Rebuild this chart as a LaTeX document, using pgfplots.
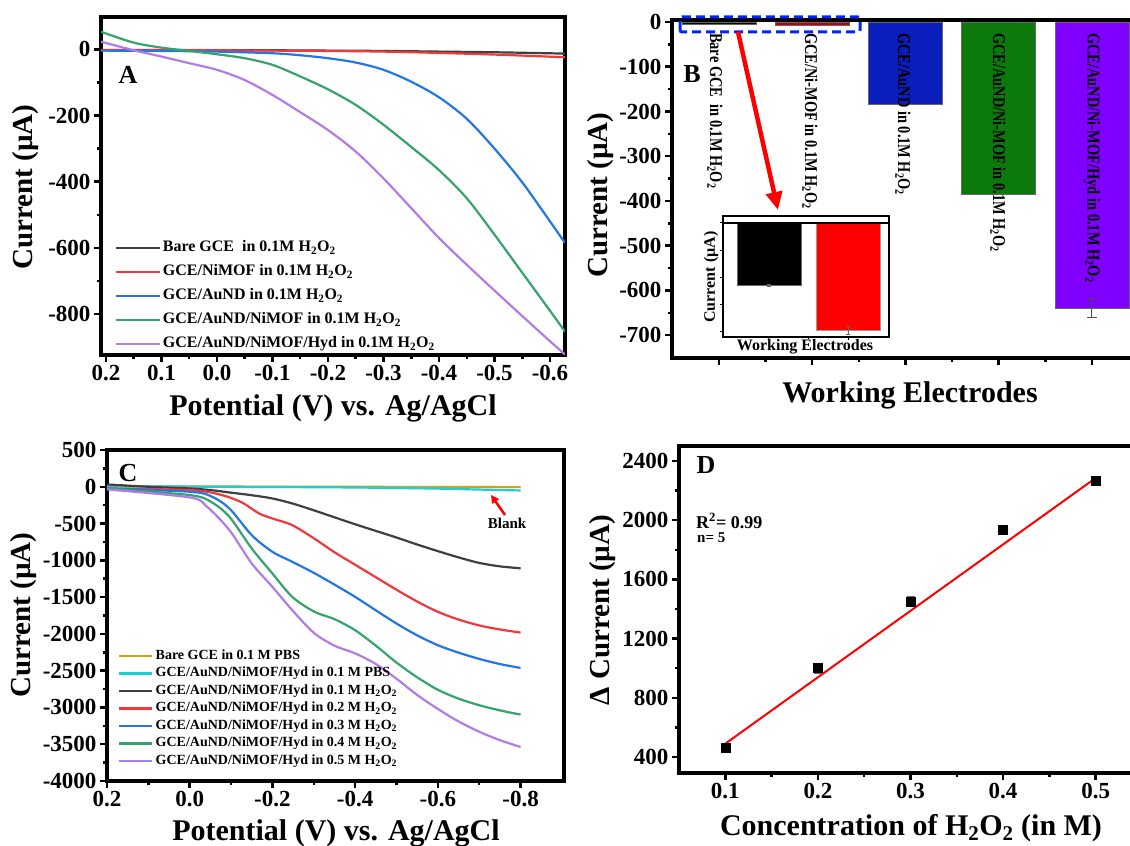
\documentclass[border=0pt]{standalone}
\usepackage{fontspec}
\setmainfont{Liberation Serif}
\usepackage{pgfplots}
\pgfplotsset{compat=1.18}
\usetikzlibrary{arrows.meta}
\newcommand\fs[1]{\fontsize{#1bp}{#1bp}\selectfont\bfseries}
\definecolor{cgray}{HTML}{3F3F3F}
\definecolor{cred}{HTML}{F2383B}
\definecolor{cblue}{HTML}{2476E4}
\definecolor{cgreen}{HTML}{35A46A}
\definecolor{cpurple}{HTML}{B07CE6}
\definecolor{corange}{HTML}{D9A010}
\definecolor{ccyan}{HTML}{1ACFD6}
\definecolor{bred}{HTML}{C00000}
\definecolor{bblue}{HTML}{0A1EBE}
\definecolor{bgreen}{HTML}{0B7A0B}
\definecolor{bpurple}{HTML}{7F00FF}
\pgfplotsset{
  myaxis/.style={
    scale only axis,
    axis line style={line width=3.5bp},
    tick align=outside,
    tick pos=left,
    major tick length=7bp,
    minor tick length=4bp,
    every tick/.style={black, line width=2.5bp},
    tick label style={font=\fs{23}},
    /pgf/number format/assume math mode=true,
    legend cell align=left,
  },
}
\begin{document}
\begin{tikzpicture}
\useasboundingbox (0,0) rectangle (1130bp,846bp);
% ---------------- Panel A
\begin{axis}[myaxis, at={(101bp,491bp)}, anchor=south west, width=464bp, height=338bp,
  x dir=reverse, xmin=-0.627, xmax=0.209, ymin=-923.6, ymax=97.6,
  xtick={-0.6,-0.5,-0.4,-0.3,-0.2,-0.1,0,0.1,0.2},
  xticklabels={-0.6,-0.5,-0.4,-0.3,-0.2,-0.1,0.0,0.1,0.2},
  ytick={-800,-600,-400,-200,0}, yticklabels={-800,-600,-400,-200,0},
  minor x tick num=1, minor y tick num=1,
  legend style={at={(axis description cs:0.022,0.358)}, anchor=north west, draw=none, fill=none,
    font=\fs{16}, nodes={text height=11bp, text depth=4bp, inner ysep=4.5bp}},
  legend image code/.code={\draw[#1, line width=2.5bp] (0bp,0bp) -- (44bp,0bp);},
]
\addplot[cgray, line width=2.2bp, smooth] coordinates {(0.209,-2)(0.1,-2)(0,-3)(-0.1,-3)(-0.2,-4)(-0.3,-5)(-0.4,-7)(-0.5,-9)(-0.627,-13)};
\addlegendentry{Bare GCE\ \ in 0.1M H\textsubscript{2}O\textsubscript{2}}
\addplot[cred, line width=2.2bp, smooth] coordinates {(0.209,-3)(0.1,-3)(0,-3)(-0.1,-4)(-0.2,-5)(-0.3,-7)(-0.4,-11)(-0.5,-16)(-0.627,-24)};
\addlegendentry{GCE/NiMOF in 0.1M H\textsubscript{2}O\textsubscript{2}}
\addplot[cblue, line width=2.2bp, smooth] coordinates {(0.209,-4)(0.1,-5)(0,-7)(-0.1,-12)(-0.15,-18)(-0.2,-27)(-0.25,-40)(-0.3,-62)(-0.35,-98)(-0.4,-145)(-0.45,-210)(-0.5,-300)(-0.55,-402)(-0.6,-520)(-0.627,-585)};
\addlegendentry{GCE/AuND in 0.1M H\textsubscript{2}O\textsubscript{2}}
\addplot[cgreen, line width=2.2bp, smooth] coordinates {(0.209,53)(0.15,20)(0.1,5)(0.05,-5)(0,-15)(-0.05,-27)(-0.1,-47)(-0.15,-82)(-0.2,-121)(-0.25,-168)(-0.3,-228)(-0.35,-295)(-0.4,-365)(-0.45,-450)(-0.5,-560)(-0.55,-675)(-0.6,-790)(-0.627,-853)};
\addlegendentry{GCE/AuND/NiMOF in 0.1M H\textsubscript{2}O\textsubscript{2}}
\addplot[cpurple, line width=2.2bp, smooth] coordinates {(0.209,23)(0.15,-3)(0.1,-22)(0.05,-42)(0,-62)(-0.05,-93)(-0.1,-138)(-0.15,-190)(-0.2,-244)(-0.25,-309)(-0.3,-390)(-0.35,-480)(-0.4,-570)(-0.45,-651)(-0.5,-729)(-0.55,-806)(-0.6,-882)(-0.627,-922)};
\addlegendentry{GCE/AuND/NiMOF/Hyd in 0.1M H\textsubscript{2}O\textsubscript{2}}
\end{axis}
% ---------------- Panel B
\begin{axis}[myaxis, at={(672bp,488bp)}, anchor=south west, width=466.6bp, height=338bp,
  xmin=-0.504, xmax=4.5, ymin=-751, ymax=4.5,
  xtick={0,1,2,3,4}, xticklabels={}, minor x tick num=1,
  ytick={-700,-600,-500,-400,-300,-200,-100,0},
  yticklabels={-700,-600,-500,-400,-300,-200,-100,0}, minor y tick num=1,
]
\addplot[ybar, bar shift=0pt, bar width=74bp, fill=black, draw=black!60, line width=0.6bp] coordinates {(0,-5)};
\addplot[ybar, bar shift=0pt, bar width=74bp, fill=bred, draw=black!60, line width=0.6bp] coordinates {(1,-8)};
\addplot[ybar, bar shift=0pt, bar width=74bp, fill=bblue, draw=black!60, line width=0.6bp] coordinates {(2,-185)};
\addplot[ybar, bar shift=0pt, bar width=74bp, fill=bgreen, draw=black!60, line width=0.6bp] coordinates {(3,-385)};
\addplot[ybar, bar shift=0pt, bar width=74bp, fill=bpurple, draw=black!60, line width=0.6bp,
  error bars/.cd, y dir=both, y explicit, error bar style={line width=1bp, black!70},
  error mark options={rotate=90, mark size=5bp, line width=1bp, black!70}] coordinates {(4,-639) +- (0,21)};
\end{axis}
% bar labels
\begin{scope}[every node/.style={rotate=-90, anchor=west, inner sep=0pt, font=\fs{18}}]
\node at (715bp,813bp) {\scalebox{0.8}[1]{Bare GCE\ \ in 0.1M H\textsubscript{2}O\textsubscript{2}}};
\node at (810bp,813bp) {\scalebox{0.8}[1]{GCE/Ni-MOF in 0.1M H\textsubscript{2}O\textsubscript{2}}};
\node at (903bp,813bp) {\scalebox{0.8}[1]{GCE/AuND in 0.1M H\textsubscript{2}O\textsubscript{2}}};
\node at (998bp,813bp) {\scalebox{0.8}[1]{GCE/AuND/Ni-MOF in 0.1M H\textsubscript{2}O\textsubscript{2}}};
\node at (1092bp,813bp) {\scalebox{0.8}[1]{GCE/AuND/Ni-MOF/Hyd in 0.1M H\textsubscript{2}O\textsubscript{2}}};
\end{scope}
% dashed box and arrow
\draw[blue!85!cyan, line width=3bp, dash pattern=on 9bp off 5bp, rounded corners=2bp] (680bp,814bp) rectangle (860bp,829bp);
\draw[red, line width=4.5bp, -{Triangle[length=18bp, width=16bp]}] (738bp,814bp) -- (778bp,636bp);
% inset
\begin{axis}[at={(723bp,509bp)}, anchor=south west, scale only axis, width=166bp, height=121bp,
  xmin=-0.58, xmax=1.52, ymin=-8.4, ymax=0.5,
  axis background/.style={fill=white},
  axis line style={line width=1.5bp},
  xtick={0,1}, xticklabels={}, minor x tick num=1,
  ytick={-8,-6,-4,-2,0}, yticklabels={},
  tick pos=left, tick align=outside, major tick length=3bp, minor tick length=2bp,
  every tick/.style={black, line width=0.8bp},
]
\addplot[ybar, bar shift=0pt, bar width=64bp, fill=black, draw=black!60, line width=0.6bp,
  error bars/.cd, y dir=both, y explicit, error bar style={line width=0.5bp, black!60}] coordinates {(0,-4.6) +- (0,0.1)};
\addplot[ybar, bar shift=0pt, bar width=64bp, fill=red, draw=black!40, line width=0.6bp,
  error bars/.cd, y dir=both, y explicit, error bar style={line width=0.5bp, black!60}] coordinates {(1,-7.9) +- (0,0.3)};
\draw[line width=1.5bp] (axis cs:-0.58,0) -- (axis cs:1.52,0);
\end{axis}
\node[rotate=90, font=\fs{16}] at (711bp,569bp) {Current (µA)};
\node[font=\fs{16}] at (805bp,499bp) {Working Electrodes};
% ---------------- Panel C
\begin{axis}[myaxis, at={(107bp,65bp)}, anchor=south west, width=457bp, height=331bp,
  x dir=reverse, xmin=-0.905, xmax=0.2, ymin=-4000, ymax=500,
  xtick={-0.8,-0.6,-0.4,-0.2,0,0.2}, xticklabels={-0.8,-0.6,-0.4,-0.2,0.0,0.2},
  ytick={-4000,-3500,-3000,-2500,-2000,-1500,-1000,-500,0,500},
  yticklabels={-4000,-3500,-3000,-2500,-2000,-1500,-1000,-500,0,500},
  minor x tick num=1, minor y tick num=1,
  legend style={at={(axis description cs:0.0175,0.41)}, anchor=north west, draw=none, fill=none,
    font=\fs{14}, nodes={text height=10bp, text depth=3.5bp, inner ysep=2bp}},
  legend image code/.code={\draw[#1, line width=2.5bp] (0bp,0bp) -- (33bp,0bp);},
]
\addplot[corange, line width=2.2bp, smooth] coordinates {(0.2,5)(0,3)(-0.2,2)(-0.4,0)(-0.6,-3)(-0.8,-5)};
\addlegendentry{Bare GCE in 0.1 M PBS}
\addplot[ccyan, line width=2.2bp, smooth] coordinates {(0.2,10)(0,2)(-0.2,-3)(-0.4,-10)(-0.6,-25)(-0.7,-38)(-0.8,-50)};
\addlegendentry{GCE/AuND/NiMOF/Hyd in 0.1 M PBS}
\addplot[cgray, line width=2.2bp, smooth] coordinates {(0.2,32)(0.1,0)(0,-23)(-0.05,-45)(-0.1,-80)(-0.15,-115)(-0.2,-159)(-0.25,-230)(-0.3,-320)(-0.35,-415)(-0.4,-510)(-0.45,-600)(-0.5,-690)(-0.55,-785)(-0.6,-875)(-0.65,-960)(-0.7,-1035)(-0.75,-1082)(-0.8,-1108)};
\addlegendentry{GCE/AuND/NiMOF/Hyd in 0.1 M H\textsubscript{2}O\textsubscript{2}}
\addplot[cred, line width=2.2bp, smooth] coordinates {(0.2,-23)(0,-45)(-0.069,-100)(-0.123,-204)(-0.168,-363)(-0.2,-431)(-0.248,-522)(-0.3,-700)(-0.35,-890)(-0.4,-1060)(-0.45,-1230)(-0.5,-1400)(-0.55,-1560)(-0.6,-1700)(-0.65,-1805)(-0.7,-1885)(-0.75,-1940)(-0.8,-1982)};
\addlegendentry{GCE/AuND/NiMOF/Hyd in 0.2 M H\textsubscript{2}O\textsubscript{2}}
\addplot[cblue, line width=2.2bp, smooth] coordinates {(0.2,-23)(0,-68)(-0.051,-127)(-0.096,-295)(-0.15,-658)(-0.2,-884)(-0.248,-1020)(-0.3,-1170)(-0.35,-1330)(-0.4,-1497)(-0.45,-1680)(-0.5,-1859)(-0.55,-2020)(-0.6,-2154)(-0.65,-2255)(-0.7,-2340)(-0.75,-2410)(-0.8,-2463)};
\addlegendentry{GCE/AuND/NiMOF/Hyd in 0.3 M H\textsubscript{2}O\textsubscript{2}}
\addplot[cgreen, line width=2.2bp, smooth] coordinates {(0.2,-23)(0,-113)(-0.051,-204)(-0.096,-408)(-0.15,-839)(-0.2,-1179)(-0.248,-1497)(-0.3,-1695)(-0.35,-1800)(-0.4,-1950)(-0.45,-2160)(-0.5,-2390)(-0.55,-2590)(-0.6,-2760)(-0.65,-2880)(-0.7,-2970)(-0.75,-3040)(-0.8,-3097)};
\addlegendentry{GCE/AuND/NiMOF/Hyd in 0.4 M H\textsubscript{2}O\textsubscript{2}}
\addplot[cpurple, line width=2.2bp, smooth] coordinates {(0.2,-36)(0,-145)(-0.042,-272)(-0.096,-590)(-0.15,-1043)(-0.2,-1361)(-0.248,-1678)(-0.3,-1985)(-0.35,-2160)(-0.4,-2265)(-0.45,-2410)(-0.5,-2610)(-0.55,-2830)(-0.6,-3020)(-0.65,-3190)(-0.7,-3330)(-0.75,-3445)(-0.8,-3537)};
\addlegendentry{GCE/AuND/NiMOF/Hyd in 0.5 M H\textsubscript{2}O\textsubscript{2}}
\end{axis}
\draw[red, line width=2.5bp, -{Triangle[length=8bp, width=8bp]}] (505bp,331bp) -- (491bp,351bp);
\node[font=\fs{15}] at (507bp,323bp) {Blank};
% ---------------- Panel D
\begin{axis}[myaxis, at={(679bp,73bp)}, anchor=south west, width=463bp, height=327bp,
  xmin=0.05, xmax=0.55, ymin=292, ymax=2501,
  xtick={0.1,0.2,0.3,0.4,0.5}, xticklabels={0.1,0.2,0.3,0.4,0.5},
  ytick={400,800,1200,1600,2000,2400}, yticklabels={400,800,1200,1600,2000,2400},
  minor x tick num=1, minor y tick num=1,
]
\addplot[red, line width=2bp] coordinates {(0.1,490)(0.5,2285)};
\addplot[only marks, mark=square*, mark size=4.5bp, black,
  error bars/.cd, y dir=both, y explicit, error bar style={line width=1bp, black!60},
  error mark options={rotate=90, mark size=4bp, line width=1bp, black!60}]
  coordinates {(0.1,465) +- (0,10) (0.2,1000) +- (0,35) (0.3,1450) +- (0,35) (0.4,1933) +- (0,10) (0.5,2265) +- (0,10)};
\end{axis}
\node[anchor=west, font=\fs{18}, inner sep=0pt] at (696bp,325bp) {R\textsuperscript{2}= 0.99};
\node[anchor=west, font=\fs{15}, inner sep=0pt] at (697bp,308bp) {n= 5};
% ---------------- panel letters
\node[font=\fs{26}] at (128bp,771bp) {A};
\node[font=\fs{26}] at (692bp,772bp) {B};
\node[font=\fs{26}] at (128bp,373bp) {C};
\node[font=\fs{26}] at (706bp,381bp) {D};
% ---------------- axis titles
\node[rotate=90, font=\fs{29}] at (26bp,659bp) {Current (µA)};
\node[font=\fs{30}] at (333bp,438bp) {Potential (V) vs. Ag/AgCl};
\node[rotate=90, font=\fs{29}] at (601bp,651bp) {Current (µA)};
\node[font=\fs{30}] at (910bp,451bp) {Working Electrodes};
\node[rotate=90, font=\fs{29}] at (24bp,231bp) {Current (µA)};
\node[font=\fs{30}] at (336bp,13bp) {Potential (V) vs. Ag/AgCl};
\node[rotate=90, font=\fs{29}] at (603bp,236bp) {Δ Current (µA)};
\node[font=\fs{30}] at (911bp,18bp) {Concentration of H\textsubscript{2}O\textsubscript{2} (in M)};
\end{tikzpicture}
\end{document}
